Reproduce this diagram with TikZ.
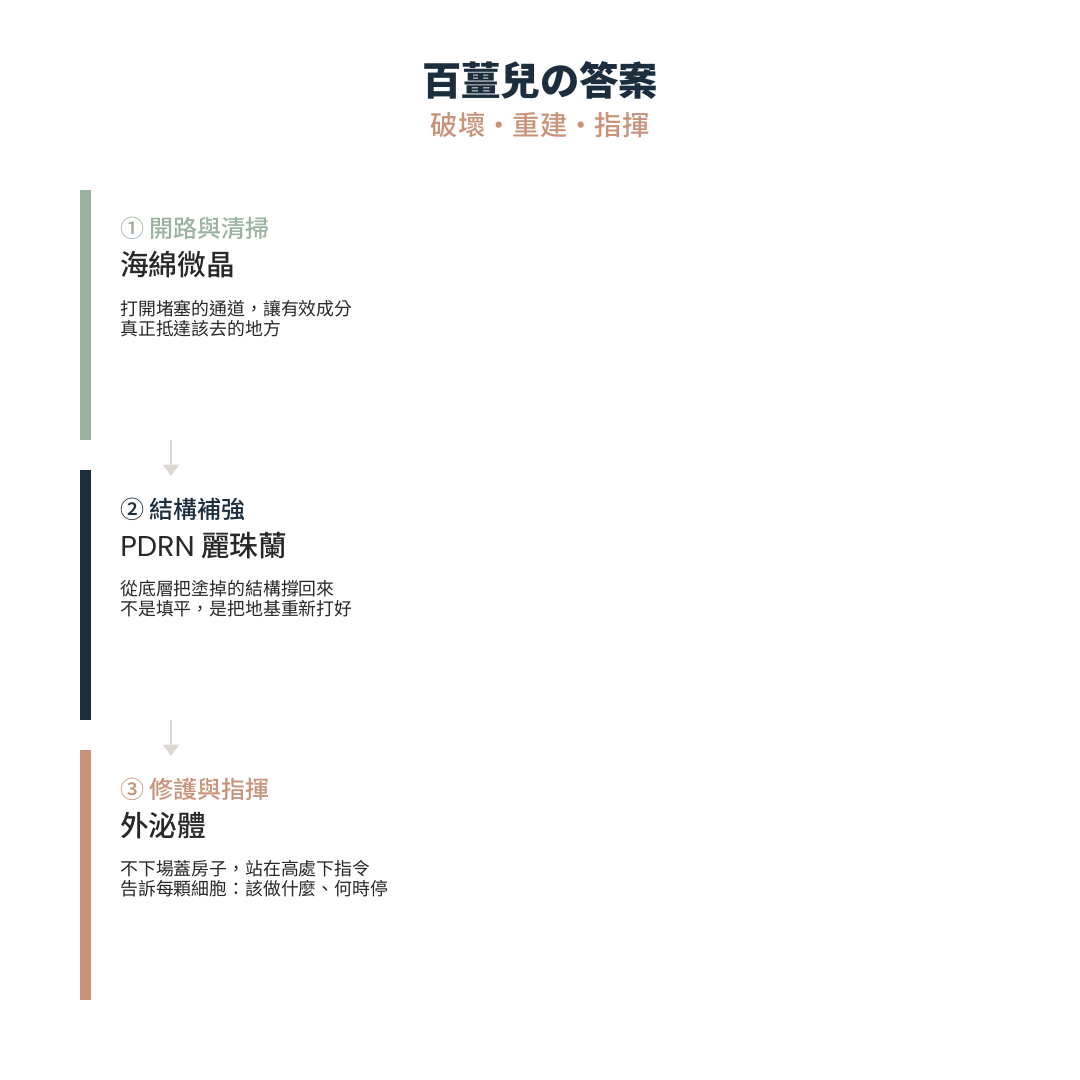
\documentclass[tikz,border=0pt]{standalone}
\usepackage{fontspec}
\usepackage{xcolor}
\setmainfont{Noto Sans CJK TC}
\newfontfamily\medfont{Noto Sans CJK TC Medium}
\newfontfamily\latinfont{Poppins}
\usetikzlibrary{arrows.meta,positioning}
\definecolor{inkblue}{RGB}{28,46,61}
\definecolor{claytan}{RGB}{201,147,122}
\definecolor{sagegreen}{RGB}{154,179,160}
\definecolor{arrowgray}{RGB}{221,216,210}
\definecolor{bodygray}{RGB}{40,40,40}

\begin{document}
\begin{tikzpicture}[x=0.75pt, y=-0.75pt,
    bar/.style={anchor=north west, inner sep=0pt, minimum width=8.25pt, minimum height=187.5pt},
    steplabel/.style={anchor=base west, inner sep=0pt, font=\fontsize{18}{20}\medfont},
    itemname/.style={anchor=base west, inner sep=0pt, text=bodygray, font=\fontsize{21.5}{24}\medfont},
    itembody/.style={anchor=base west, inner sep=0pt, text=bodygray, align=left, font=\fontsize{13.4}{15}\selectfont},
    flow/.style={arrowgray, line width=1.5pt, -{Triangle[width=12pt, length=8.5pt]}}]
    % canvas
    \fill[white] (0,0) rectangle (1080,1080);

    % heading
    \node[anchor=base, inner sep=0pt, text=inkblue, font=\fontsize{29.5}{32}\selectfont\bfseries] (title) at (540,96) {百薑兒の答案};
    \node[anchor=base, inner sep=0pt, text=claytan, font=\fontsize{20.5}{24}\medfont] (subtitle) at (540,136) {破壞・重建・指揮};

    % step 1
    \node[bar, fill=sagegreen] (bar1) at (80,190) {};
    \node[steplabel, text=sagegreen] (label1) at (120,238) {① 開路與清掃};
    \node[itemname] (name1) at (120,276) {海綿微晶};
    \node[itembody] (body1) at (120,335) {打開堵塞的通道，讓有效成分\\真正抵達該去的地方};

    % step 2
    \node[bar, fill=inkblue] (bar2) at (80,470) {};
    \node[steplabel, text=inkblue] (label2) at (120,518) {② 結構補強};
    \node[itemname] (name2) at (120,556) {{\latinfont PDRN} 麗珠蘭};
    \node[itembody] (body2) at (120,615) {從底層把塗掉的結構撐回來\\不是填平，是把地基重新打好};

    % step 3
    \node[bar, fill=claytan] (bar3) at (80,750) {};
    \node[steplabel, text=claytan] (label3) at (120,798) {③ 修護與指揮};
    \node[itemname] (name3) at (120,836) {外泌體};
    \node[itembody] (body3) at (120,895) {不下場蓋房子，站在高處下指令\\告訴每顆細胞：該做什麼、何時停};

    % arrows between steps
    \coordinate (from1) at (171,440);
    \coordinate (to2) at (171,476);
    \coordinate (from2) at (171,720);
    \coordinate (to3) at (171,756);
    \draw[flow] (from1) -- (to2);
    \draw[flow] (from2) -- (to3);
\end{tikzpicture}
\end{document}
